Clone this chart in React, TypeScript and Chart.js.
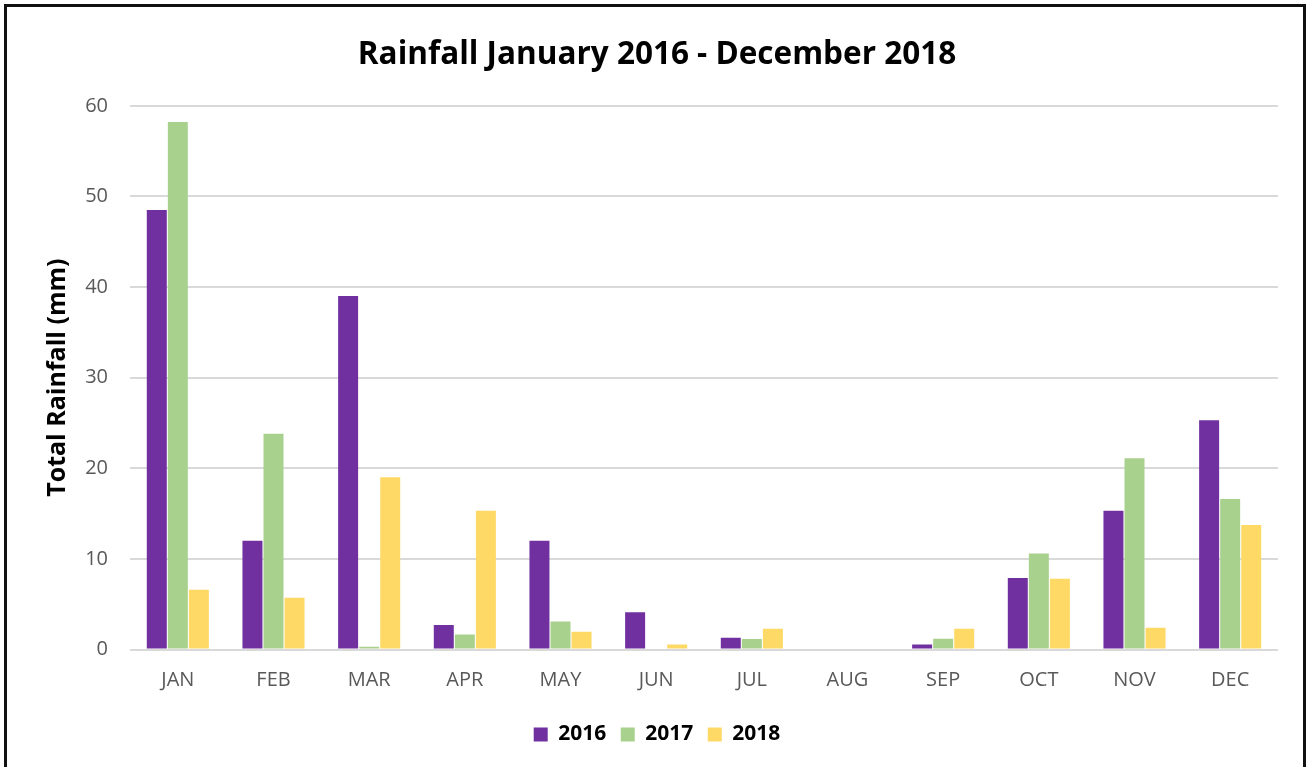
import React, { useEffect, useRef } from "react";
import { Chart, registerables } from "chart.js";

Chart.register(...registerables);

// Monthly rainfall totals (mm)
const months = ["JAN", "FEB", "MAR", "APR", "MAY", "JUN", "JUL", "AUG", "SEP", "OCT", "NOV", "DEC"];
const rain2016 = [48.5, 12.0, 39.0, 2.7, 12.0, 4.1, 1.3, 0, 0.55, 7.9, 15.3, 25.3];
const rain2017 = [58.2, 23.8, 0.3, 1.65, 3.1, 0, 1.15, 0, 1.2, 10.6, 21.1, 16.6];
const rain2018 = [6.6, 5.7, 19.0, 15.3, 1.95, 0.55, 2.3, 0, 2.3, 7.8, 2.4, 13.75];
const yTicks = [0, 10, 20, 30, 40, 50, 60];

const FONT = "'Open Sans', 'DejaVu Sans', sans-serif";

export default function App() {
  const canvasRef = useRef<HTMLCanvasElement | null>(null);

  useEffect(() => {
    document.body.style.margin = "0";
    const canvas = canvasRef.current;
    if (!canvas) return;

    const chart = new Chart(canvas, {
      type: "bar",
      data: {
        labels: months,
        datasets: [
          { label: "2016", data: rain2016, backgroundColor: "#7030A0" },
          { label: "2017", data: rain2017, backgroundColor: "#A9D18E" },
          { label: "2018", data: rain2018, backgroundColor: "#FFD966" },
        ],
      },
      options: {
        animation: false,
        responsive: false,
        maintainAspectRatio: false,
        datasets: {
          bar: { barPercentage: 0.95, categoryPercentage: 0.66 },
        },
        layout: { padding: { left: 36, right: 29, top: 14, bottom: 12 } },
        plugins: {
          title: {
            display: true,
            text: "Rainfall January 2016 - December 2018",
            color: "#000000",
            font: { family: FONT, size: 31.5, weight: "bold" },
            padding: { top: 22, bottom: 32 },
          },
          legend: {
            display: true,
            position: "bottom",
            labels: {
              boxWidth: 14,
              boxHeight: 14,
              padding: 14.5,
              color: "#000000",
              font: { family: FONT, size: 21, weight: "bold" },
            },
          },
          tooltip: { enabled: false },
        },
        scales: {
          x: {
            grid: { display: false, drawTicks: false },
            border: { display: false },
            ticks: {
              color: "#595959",
              padding: 19,
              font: { family: FONT, size: 20 },
              maxRotation: 0,
            },
            afterFit: (scale: any) => {
              scale.height = 60;
            },
          },
          y: {
            min: 0,
            max: 60,
            afterBuildTicks: (scale: any) => {
              scale.ticks = yTicks.map((v) => ({ value: v }));
            },
            grid: { color: "#d9d9d9", lineWidth: 2, drawTicks: false },
            border: { display: false },
            ticks: {
              color: "#595959",
              padding: 22,
              font: { family: FONT, size: 20 },
            },
            title: {
              display: true,
              text: "Total Rainfall (mm)",
              color: "#000000",
              font: { family: FONT, size: 25, weight: "bold" },
              padding: { top: 7, bottom: 0 },
            },
            afterFit: (scale: any) => {
              scale.width = 94;
            },
          },
        },
      },
    });

    return () => chart.destroy();
  }, []);

  return (
    <div
      style={{
        position: "fixed",
        left: 0,
        top: 0,
        width: 1307,
        height: 767,
        overflow: "hidden",
        background: "#ffffff",
      }}
    >
      <canvas ref={canvasRef} width={1307} height={767} style={{ display: "block" }} />
      <div
        style={{
          position: "absolute",
          left: 4,
          top: 4,
          width: 1296,
          height: 900,
          border: "3px solid #111111",
          pointerEvents: "none",
        }}
      />
    </div>
  );
}
